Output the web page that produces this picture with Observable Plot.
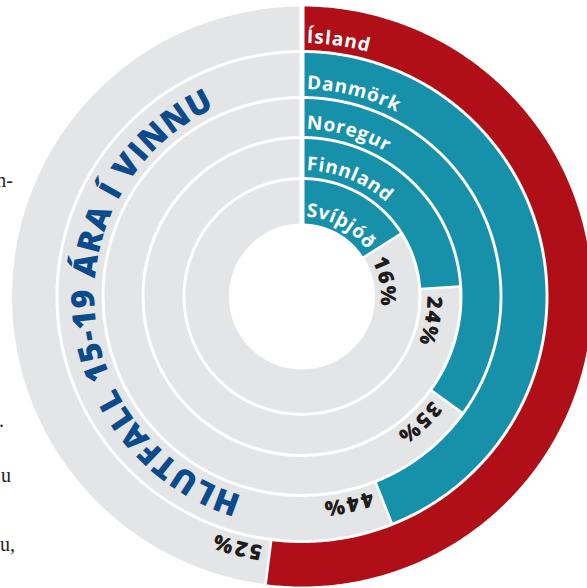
<!DOCTYPE html>
<html><head><meta charset="utf-8">
<script src="https://cdn.jsdelivr.net/npm/d3@7"></script>
<script src="https://cdn.jsdelivr.net/npm/@observablehq/plot@0.6"></script>
<style>
body{margin:0;background:#fff;overflow:hidden;width:587px;height:588px;position:relative}
#chart{position:absolute;left:0;top:0}
.frag{position:absolute;font-family:"Liberation Serif","DejaVu Serif",serif;font-size:20px;line-height:20px;color:#231f20;white-space:nowrap;width:200px;text-align:right}
</style></head><body>
<div id="chart"></div>
<div class="frag" style="left:-154px;top:-31px;font-size:30px;line-height:30px;">g</div>
<div class="frag" style="left:-187px;top:170px;">n-</div>
<div class="frag" style="left:-196px;top:410px;">.</div>
<div class="frag" style="left:-189px;top:465px;">u</div>
<div class="frag" style="left:-185px;top:534px;">u,</div>
<script>
// ---- data ----
const countries = ["Ísland", "Danmörk", "Noregur", "Finnland", "Svíþjóð"]; // outer -> inner
const shares = [52, 44, 35, 24, 16];
const percentLabels = ["52%", "44%", "35%", "24%", "16%"];
const title = "HLUTFALL 15-19 ÁRA Í VINNU";

// ---- layout ----
const W = 587, H = 588, CX = 301.5, CY = 296;
const ringEdges = [73, 118, 159, 199, 245, 290]; // inner -> outer
const GAP = 3;
const GREY = "#e4e5e7";
const FONT = '"Open Sans", "Noto Sans", sans-serif';

const rings = countries.map((c, k) => {
  const i = countries.length - 1 - k;
  const rin = ringEdges[i] + (i > 0 ? GAP / 2 : 0);
  const rout = ringEdges[i + 1] - (i < countries.length - 1 ? GAP / 2 : 0);
  return {country: c, value: shares[k], label: percentLabels[k], rin, rout, rmid: (rin + rout) / 2, w: rout - rin, end: shares[k] * 3.6};
});

const rad = d => d * Math.PI / 180;
const polar = (r, deg) => ({x: r * Math.sin(rad(deg)), y: r * Math.cos(rad(deg))});

function arcPts(g) {
  const pts = [];
  for (let a = 0; a < g.end; a += 0.5) pts.push({...polar(g.rmid, a), country: g.country});
  pts.push({...polar(g.rmid, g.end), country: g.country});
  return pts;
}

const ctx = document.createElement("canvas").getContext("2d");
function placeChars(text, r, opts) {
  const {size, weight, ls, startArc, centerDeg, spanDeg} = opts;
  ctx.font = `${weight} ${size}px ${FONT}`;
  const chars = Array.from(text);
  const ws = chars.map(ch => ctx.measureText(ch).width);
  const sumW = d3.sum(ws);
  let spacing = ls;
  let s0;
  if (spanDeg != null) {
    const target = rad(spanDeg) * r;
    spacing = (target - sumW) / (chars.length - 1);
    s0 = rad(centerDeg) * r - target / 2;
  } else if (centerDeg != null) {
    const total = sumW + spacing * (chars.length - 1);
    s0 = rad(centerDeg) * r - total / 2;
  } else {
    s0 = startArc;
  }
  const out = [];
  let s = s0;
  chars.forEach((ch, j) => {
    const sc = s + ws[j] / 2;
    const deg = (sc / r) * 180 / Math.PI;
    out.push({ch, ...polar(r, deg), rot: deg});
    s += ws[j] + spacing;
  });
  return out;
}

const countryChars = rings.flatMap(g => placeChars(g.country, g.rin + 13, {size: 19, weight: "bold", ls: 1.2, startArc: 5}));
const pctChars = rings.flatMap(g => placeChars(g.label, g.rin + 12.5, {size: 21, weight: 800, ls: 2.4, startArc: rad(g.end) * (g.rin + 12.5) + 8}));
const titleChars = placeChars(title, 218, {size: 32, weight: 800, centerDeg: 266, spanDeg: 138});

const p1 = polar(70, 0), p2 = polar(295, 0);
const startSep = [{x1: p1.x, y1: p1.y, x2: p2.x, y2: p2.y}];
const endSeps = rings.map(g => {
  const a = polar(g.rin - 0.5, g.end), b = polar(g.rout + 0.5, g.end);
  return {x1: a.x, y1: a.y, x2: b.x, y2: b.y};
});

const chart = Plot.plot({
  width: W, height: H, margin: 0,
  x: {domain: [-CX, W - CX], range: [0, W], axis: null},
  y: {domain: [-(H - CY), CY], range: [H, 0], axis: null},
  color: {domain: countries, range: ["#b00f18", "#1791a9", "#1791a9", "#1791a9", "#1791a9"]},
  style: {background: "transparent"},
  marks: [
    ...rings.map(g => Plot.dot([{x: 0, y: 0}], {x: "x", y: "y", r: g.rmid, fill: "none", stroke: GREY, strokeWidth: g.w})),
    ...rings.map(g => Plot.line(arcPts(g), {x: "x", y: "y", stroke: "country", strokeWidth: g.w, strokeLinecap: "butt", strokeLinejoin: "round"})),
    Plot.link(startSep, {x1: "x1", y1: "y1", x2: "x2", y2: "y2", stroke: "white", strokeWidth: 5}),
    Plot.link(endSeps, {x1: "x1", y1: "y1", x2: "x2", y2: "y2", stroke: "white", strokeWidth: 2.5}),
    Plot.text(countryChars, {x: "x", y: "y", text: "ch", rotate: "rot", fill: "white", fontSize: 19, fontWeight: "bold", fontFamily: FONT, textAnchor: "middle", lineAnchor: "middle"}),
    Plot.text(pctChars, {x: "x", y: "y", text: "ch", rotate: "rot", fill: "#1e1b1b", fontSize: 21, fontWeight: 800, fontFamily: FONT, textAnchor: "middle", lineAnchor: "middle"}),
    Plot.text(titleChars, {x: "x", y: "y", text: "ch", rotate: "rot", fill: "#0b4a8b", fontSize: 32, fontWeight: 800, fontFamily: FONT, textAnchor: "middle", lineAnchor: "middle"})
  ]
});
document.getElementById("chart").appendChild(chart);
</script>
</body></html>
